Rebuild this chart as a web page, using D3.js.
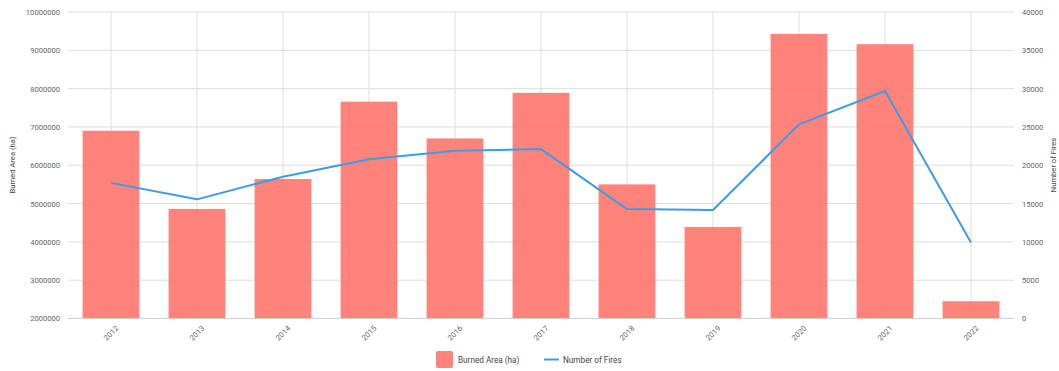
<!DOCTYPE html>
<html>
<head>
<meta charset="utf-8">
<script src="https://cdn.jsdelivr.net/npm/d3@7"></script>
<style>
  html, body { margin: 0; padding: 0; background: #fff; }
  svg { display: block; font-family: Roboto, "Noto Sans", sans-serif; }
</style>
</head>
<body>
<svg id="chart" width="1059" height="371"></svg>
<script>
// Yearly wildfire figures
const years = ["2012", "2013", "2014", "2015", "2016", "2017", "2018", "2019", "2020", "2021", "2022"];
const burnedArea = [6900000, 4860000, 5640000, 7660000, 6700000, 7890000, 5500000, 4390000, 9430000, 9160000, 2450000];
const fireCounts = [17700, 15550, 18500, 20770, 21900, 22110, 14280, 14150, 25340, 29690, 9930];
const leftTicks = [2000000, 3000000, 4000000, 5000000, 6000000, 7000000, 8000000, 9000000, 10000000];
const rightTicks = [0, 5000, 10000, 15000, 20000, 25000, 30000, 35000, 40000];

const barColor = "#ff766c";
const lineColor = "#3d9ce6";
const textColor = "#666";
const gridColor = "#dedede";

const svg = d3.select("#chart");
const plot = { left: 68, right: 1014, top: 12, bottom: 318.5 };

const x = d3.scaleBand().domain(years)
  .range([plot.left, plot.right]).paddingInner(0.34).paddingOuter(0.17);
const yLeft = d3.scaleLinear().domain([2000000, 10000000]).range([plot.bottom, plot.top]);
const yRight = d3.scaleLinear().domain([0, 40000]).range([plot.bottom, plot.top]);

// horizontal grid
svg.append("g").selectAll("line").data(leftTicks).join("line")
  .attr("x1", plot.left).attr("x2", plot.right)
  .attr("y1", d => yLeft(d)).attr("y2", d => yLeft(d))
  .attr("stroke", gridColor).attr("stroke-width", 1);

// vertical grid through category centres
svg.append("g").selectAll("line").data(years).join("line")
  .attr("x1", d => x(d) + x.bandwidth() / 2).attr("x2", d => x(d) + x.bandwidth() / 2)
  .attr("y1", plot.top).attr("y2", plot.bottom)
  .attr("stroke", gridColor).attr("stroke-width", 1);

// bars, slightly translucent so the grid shows through
svg.append("g").selectAll("rect").data(years).join("rect")
  .attr("x", d => x(d))
  .attr("width", x.bandwidth())
  .attr("y", (d, i) => yLeft(burnedArea[i]))
  .attr("height", (d, i) => plot.bottom - yLeft(burnedArea[i]))
  .attr("fill", barColor)
  .attr("fill-opacity", 0.9);

// baseline
svg.append("line")
  .attr("x1", plot.left).attr("x2", plot.right)
  .attr("y1", plot.bottom).attr("y2", plot.bottom)
  .attr("stroke", "#cfcfcf").attr("stroke-width", 1);

// fire count line
const line = d3.line()
  .x((d, i) => x(years[i]) + x.bandwidth() / 2)
  .y(d => yRight(d));
svg.append("path").datum(fireCounts)
  .attr("d", line)
  .attr("fill", "none")
  .attr("stroke", lineColor)
  .attr("stroke-width", 2)
  .attr("stroke-linejoin", "round");

// left axis
const leftAxis = d3.axisLeft(yLeft).tickValues(leftTicks).tickSize(0).tickPadding(0)
  .tickFormat(d3.format("d"));
const gl = svg.append("g").attr("transform", "translate(60,0)").call(leftAxis);
gl.select(".domain").remove();
gl.selectAll("text").attr("fill", textColor).style("font-size", "7.6px")
  .attr("font-family", "Roboto, sans-serif");

// right axis
const rightAxis = d3.axisRight(yRight).tickValues(rightTicks).tickSize(0).tickPadding(0)
  .tickFormat(d3.format("d"));
const gr = svg.append("g").attr("transform", "translate(1022,0)").call(rightAxis);
gr.select(".domain").remove();
gr.selectAll("text").attr("fill", textColor).style("font-size", "7.6px")
  .attr("font-family", "Roboto, sans-serif");

// category labels, slanted
const bottomAxis = d3.axisBottom(x).tickSize(0).tickPadding(0);
const gb = svg.append("g").call(bottomAxis);
gb.select(".domain").remove();
gb.selectAll(".tick").attr("transform", d => `translate(${x(d) + x.bandwidth() / 2},333)`);
gb.selectAll("text")
  .attr("y", 0).attr("dy", "0.35em")
  .attr("text-anchor", "middle")
  .attr("transform", "rotate(-45)")
  .attr("fill", textColor).style("font-size", "7.6px")
  .attr("font-family", "Roboto, sans-serif");

// axis titles
svg.append("text")
  .attr("transform", "translate(12,165) rotate(-90)")
  .attr("text-anchor", "middle").attr("dy", "0.35em")
  .attr("fill", "#444").style("font-size", "7.6px")
  .text("Burned Area (ha)");
svg.append("text")
  .attr("transform", "translate(1053,165) rotate(-90)")
  .attr("text-anchor", "middle").attr("dy", "0.35em")
  .attr("fill", "#444").style("font-size", "7.6px")
  .text("Number of Fires");

// legend
const legend = svg.append("g");
legend.append("rect")
  .attr("x", 436).attr("y", 351).attr("width", 17).attr("height", 17)
  .attr("rx", 2).attr("fill", barColor).attr("fill-opacity", 0.9);
legend.append("text")
  .attr("x", 458).attr("y", 360).attr("dy", "0.35em")
  .attr("fill", "#444").style("font-size", "8.2px")
  .text("Burned Area (ha)");
legend.append("line")
  .attr("x1", 544).attr("x2", 559).attr("y1", 359.5).attr("y2", 359.5)
  .attr("stroke", lineColor).attr("stroke-width", 2);
legend.append("text")
  .attr("x", 563).attr("y", 360).attr("dy", "0.35em")
  .attr("fill", "#444").style("font-size", "8.2px")
  .text("Number of Fires");
</script>
</body>
</html>
